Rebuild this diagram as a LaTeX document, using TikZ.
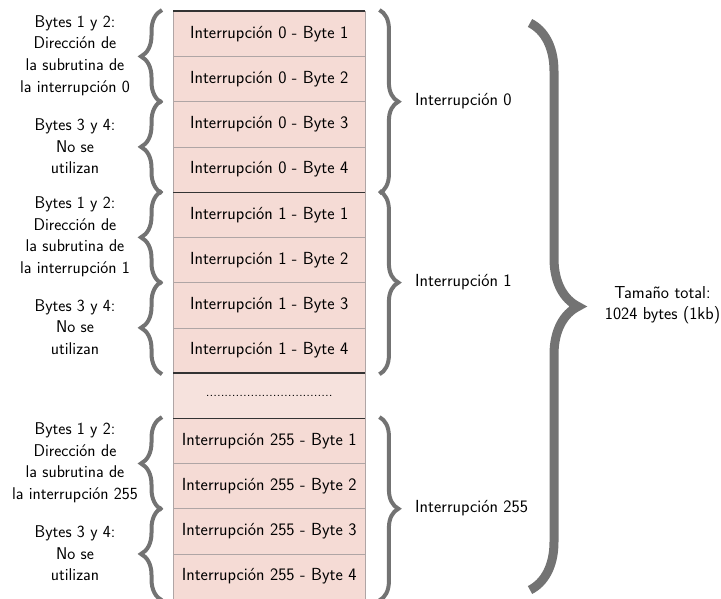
\documentclass[tikz,border=0pt]{standalone}
\usetikzlibrary{decorations.pathreplacing}
\definecolor{cellfill}{RGB}{245,219,213}
\definecolor{dotfill}{RGB}{246,226,221}
\definecolor{sepgray}{RGB}{175,165,165}
\definecolor{bracegray}{RGB}{115,115,115}
\tikzset{
  cell/.style={rectangle, fill=cellfill, minimum width=192pt, minimum height=45.23pt, inner sep=0pt, anchor=north west, font=\sffamily\fontsize{17.5}{21}\selectfont},
  dotcell/.style={cell, fill=dotfill},
  thinsep/.style={draw=sepgray, line width=1pt},
  thicksep/.style={draw=black!80, line width=1.6pt},
  lbrace/.style={draw=bracegray, line width=4pt, decorate, decoration={brace, amplitude=21pt}},
  rbrace/.style={draw=bracegray, line width=4pt, decorate, decoration={brace, amplitude=19pt}},
  bigbrace/.style={draw=bracegray, line width=9pt, decorate, decoration={brace, amplitude=48pt}},
  lbl/.style={align=center, font=\sffamily\fontsize{17}{21.8}\selectfont, inner sep=0pt},
  rlbl/.style={anchor=west, font=\sffamily\fontsize{17.5}{21}\selectfont, inner sep=0pt},
}
\begin{document}
\begin{tikzpicture}[x=1pt, y=-1pt]
\useasboundingbox (0,0) rectangle (721,599);
% cells
\node[cell] (r0) at (173, 11.00) {Interrupción 0 - Byte 1};
\node[cell] (r1) at (173, 56.23) {Interrupción 0 - Byte 2};
\node[cell] (r2) at (173,101.46) {Interrupción 0 - Byte 3};
\node[cell] (r3) at (173,146.69) {Interrupción 0 - Byte 4};
\node[cell] (r4) at (173,191.92) {Interrupción 1 - Byte 1};
\node[cell] (r5) at (173,237.15) {Interrupción 1 - Byte 2};
\node[cell] (r6) at (173,282.38) {Interrupción 1 - Byte 3};
\node[cell] (r7) at (173,327.61) {Interrupción 1 - Byte 4};
\node[dotcell, font=\sffamily\fontsize{13.7}{16}\selectfont] (r8) at (173,372.84) {..................................};
\node[cell] (r9) at (173,418.07) {Interrupción 255 - Byte 1};
\node[cell] (r10) at (173,463.30) {Interrupción 255 - Byte 2};
\node[cell] (r11) at (173,508.53) {Interrupción 255 - Byte 3};
\node[cell] (r12) at (173,553.76) {Interrupción 255 - Byte 4};
% side borders
\draw[thinsep] (r0.north west) -- (r12.south west);
\draw[thinsep] (r0.north east) -- (r12.south east);
% separators
\foreach \i in {0,1,2,4,5,6,9,10,11}{
  \draw[thinsep] (r\i.south west) -- (r\i.south east);
}
\draw[thicksep] (r0.north west) -- (r0.north east);
\foreach \i in {3,7,8}{
  \draw[thicksep] (r\i.south west) -- (r\i.south east);
}
% left braces
\foreach \a/\b in {0/1,2/3,4/5,6/7,9/10,11/12}{
  \draw[lbrace] ([xshift=-11pt,yshift=-1pt]r\b.south west) -- ([xshift=-11pt,yshift=1pt]r\a.north west);
}
% left labels
\node[lbl] (l0) at (75, 55.5) {Bytes 1 y 2:\\Dirección de\\la subrutina de\\la interrupción 0};
\node[lbl] (l1) at (75,146.2) {Bytes 3 y 4:\\No se\\utilizan};
\node[lbl] (l2) at (75,236.7) {Bytes 1 y 2:\\Dirección de\\la subrutina de\\la interrupción 1};
\node[lbl] (l3) at (75,327.1) {Bytes 3 y 4:\\No se\\utilizan};
\node[lbl] (l4) at (75,462.8) {Bytes 1 y 2:\\Dirección de\\la subrutina de\\la interrupción 255};
\node[lbl] (l5) at (75,553.3) {Bytes 3 y 4:\\No se\\utilizan};
% right braces
\draw[rbrace] ([xshift=14pt,yshift=1pt]r0.north east) -- ([xshift=14pt,yshift=-1pt]r3.south east);
\draw[rbrace] ([xshift=14pt,yshift=1pt]r4.north east) -- ([xshift=14pt,yshift=-1pt]r7.south east);
\draw[rbrace] ([xshift=14pt,yshift=1pt]r9.north east) -- ([xshift=14pt,yshift=-1pt]r12.south east);
\node[rlbl] (i0) at (415,101.5) {Interrupción 0};
\node[rlbl] (i1) at (415,282.4) {Interrupción 1};
\node[rlbl] (i2) at (415,508.5) {Interrupción 255};
% big brace
\coordinate (bt) at (530,23);
\coordinate (bb) at (530,590);
\draw[bigbrace] (bt) -- (bb);
\node[lbl, font=\sffamily\fontsize{17.3}{20.5}\selectfont] (tot) at (662.5,305) {Tamaño total:\\1024 bytes (1kb)};
\end{tikzpicture}
\end{document}
